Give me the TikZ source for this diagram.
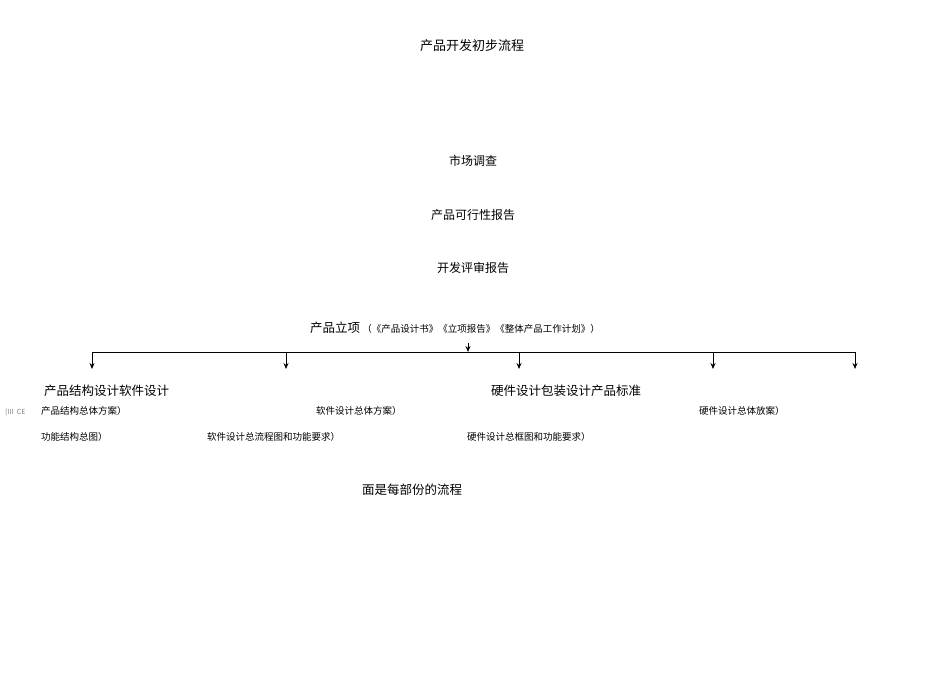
\documentclass[tikz,border=0pt]{standalone}
\usepackage{fontspec}
\setmainfont{Noto Sans CJK SC}
\newfontfamily\cjk{Noto Sans CJK SC}
\usetikzlibrary{arrows.meta}
\begin{document}
\begin{tikzpicture}[x=1pt,y=-1pt,
  t/.style={inner sep=0pt,font=\cjk\fontsize{13}{15}\selectfont},
  h/.style={inner sep=0pt,anchor=west,font=\cjk\fontsize{12.5}{15}\selectfont},
  s/.style={inner sep=0pt,anchor=west,font=\cjk\fontsize{9.5}{12}\selectfont},
  arr/.style={-{Stealth[length=6pt,width=5pt]},line width=0.8pt}]
\useasboundingbox (0,0) rectangle (950,672);
\node[t] (title) at (472,46) {产品开发初步流程};
\node[t,font=\cjk\fontsize{12}{14}\selectfont] (a) at (473,161) {市场调查};
\node[t,font=\cjk\fontsize{12}{14}\selectfont] (b) at (473,215) {产品可行性报告};
\node[t,font=\cjk\fontsize{12}{14}\selectfont] (c) at (473,268) {开发评审报告};
\node[h] (d) at (310,328) {产品立项\,{\fontsize{9.5}{12}\selectfont（《产品设计书》《立项报告》《整体产品工作计划》）}};
\coordinate (top) at (468,343);
\coordinate (bus) at (468,352);
\coordinate (L) at (92,352);
\coordinate (R) at (855,352);
\draw[arr] (top) -- (bus);
\draw[line width=0.8pt] (L) -- (R);
\foreach \x/\n in {92/p1,286/p2,519/p3,713/p4,855/p5}{
  \coordinate (\n) at (\x,369);
  \draw[arr] (\x,352) -- (\n);
}
\node[h] (e) at (44,391) {产品结构设计软件设计};
\node[h] (f) at (491,391) {硬件设计包装设计产品标准};
\node[inner sep=0pt,anchor=west,font=\fontsize{7}{8}\selectfont,text=gray] (g0) at (5,412) {(III \ CE};
\node[s] (g1) at (41,411) {产品结构总体方案）};
\node[s] (g2) at (316,411) {软件设计总体方案）};
\node[s] (g3) at (699,411) {硬件设计总体放案）};
\node[s] (k1) at (41,437) {功能结构总图）};
\node[s] (k2) at (207,437) {软件设计总流程图和功能要求）};
\node[s] (k3) at (467,437) {硬件设计总框图和功能要求）};
\node[h] (m) at (362,490) {面是每部份的流程};
\end{tikzpicture}
\end{document}
